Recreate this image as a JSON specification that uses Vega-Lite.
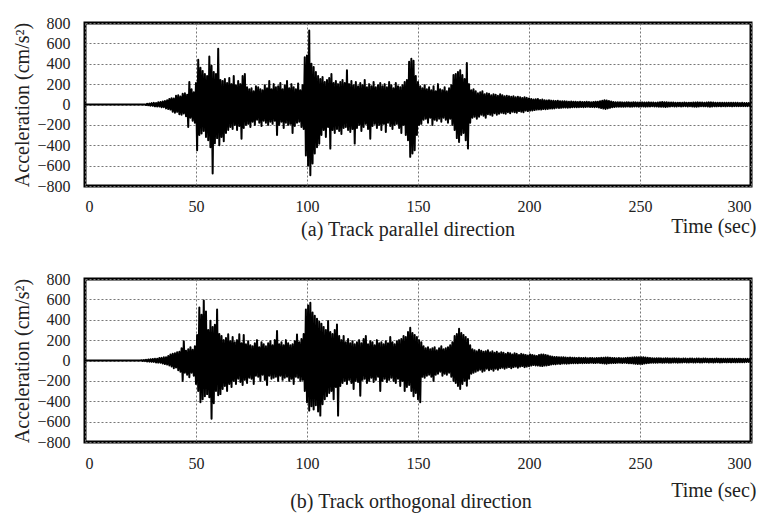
{
"$schema": "https://vega.github.io/schema/vega-lite/v6.json",
"background": "white",
"padding": {"left": 11, "top": 13, "right": 5, "bottom": 5},
"spacing": 27,
"config": {
"font": "Liberation Serif",
"view": {"stroke": "black", "strokeWidth": 3},
"axis": {"grid": true, "gridColor": "#777", "gridDash": [2, 2], "gridWidth": 1, "ticks": false, "tickSize": 0, "domain": false, "labelFont": "Liberation Serif", "labelFontSize": 16, "labelColor": "#222", "titleFont": "Liberation Serif", "titleFontWeight": "normal", "titleFontSize": 20, "titleColor": "#222"},
"title": {"font": "Liberation Serif", "fontSize": 20, "fontWeight": "normal", "color": "#222"}
},
"data": {"values": [
{"t":0,"a":0,"b":0},{"t":25,"a":0,"b":0},{"t":25.5,"a":0,"b":3},{"t":26,"a":0,"b":-4},{"t":26.5,"a":0,"b":5},{"t":27,"a":0,"b":-6},
{"t":27.5,"a":-5,"b":8},{"t":28,"a":7,"b":-9},{"t":28.5,"a":-8,"b":10},{"t":29,"a":10,"b":-11},{"t":29.5,"a":-12,"b":12},{"t":30,"a":14,"b":-13},
{"t":30.5,"a":-13,"b":15},{"t":31,"a":16,"b":-14},{"t":31.5,"a":-18,"b":17},{"t":32,"a":15,"b":-19},{"t":32.5,"a":-20,"b":18},{"t":33,"a":22,"b":-21},
{"t":33.5,"a":-19,"b":24},{"t":34,"a":25,"b":-22},{"t":34.5,"a":-28,"b":26},{"t":35,"a":30,"b":-29},{"t":35.5,"a":-26,"b":31},{"t":36,"a":34,"b":-35},
{"t":36.5,"a":-38,"b":33},{"t":37,"a":42,"b":-40},{"t":37.5,"a":-45,"b":44},{"t":38,"a":55,"b":-48},{"t":38.5,"a":-50,"b":60},{"t":39,"a":62,"b":-58},
{"t":39.5,"a":-70,"b":66},{"t":40,"a":58,"b":-75},{"t":40.5,"a":-80,"b":72},{"t":41,"a":85,"b":-68},{"t":41.5,"a":-72,"b":80},{"t":42,"a":90,"b":-95},
{"t":42.5,"a":-95,"b":85},{"t":43,"a":78,"b":-110},{"t":43.5,"a":-100,"b":120},{"t":44,"a":105,"b":-200},{"t":44.5,"a":-88,"b":190},{"t":45,"a":110,"b":-120},
{"t":45.5,"a":-115,"b":95},{"t":46,"a":95,"b":-140},{"t":46.5,"a":-220,"b":110},{"t":47,"a":220,"b":-165},{"t":47.5,"a":-130,"b":130},{"t":48,"a":150,"b":-120},
{"t":48.5,"a":-160,"b":105},{"t":49,"a":120,"b":-150},{"t":49.5,"a":-180,"b":140},{"t":50,"a":210,"b":-230},{"t":50.5,"a":-450,"b":250},{"t":51,"a":440,"b":-300},
{"t":51.5,"a":-300,"b":520},{"t":52,"a":360,"b":-410},{"t":52.5,"a":-285,"b":450},{"t":53,"a":330,"b":-380},{"t":53.5,"a":-260,"b":590},{"t":54,"a":300,"b":-350},
{"t":54.5,"a":-320,"b":480},{"t":55,"a":280,"b":-330},{"t":55.5,"a":-350,"b":300},{"t":56,"a":470,"b":-360},{"t":56.5,"a":-420,"b":390},{"t":57,"a":380,"b":-572},
{"t":57.5,"a":-678,"b":330},{"t":58,"a":320,"b":-420},{"t":58.5,"a":-380,"b":350},{"t":59,"a":300,"b":-300},{"t":59.5,"a":-330,"b":500},{"t":60,"a":547,"b":-340},
{"t":60.5,"a":-400,"b":260},{"t":61,"a":240,"b":-330},{"t":61.5,"a":-320,"b":240},{"t":62,"a":230,"b":-280},{"t":62.5,"a":-360,"b":200},{"t":63,"a":250,"b":-250},
{"t":63.5,"a":-280,"b":220},{"t":64,"a":210,"b":-300},{"t":64.5,"a":-250,"b":257},{"t":65,"a":260,"b":-230},{"t":65.5,"a":-220,"b":190},{"t":66,"a":200,"b":-260},
{"t":66.5,"a":-240,"b":230},{"t":67,"a":280,"b":-200},{"t":67.5,"a":-200,"b":180},{"t":68,"a":190,"b":-230},{"t":68.5,"a":-250,"b":200},{"t":69,"a":230,"b":-180},
{"t":69.5,"a":-210,"b":257},{"t":70,"a":200,"b":-210},{"t":70.5,"a":-335,"b":170},{"t":71,"a":280,"b":-240},{"t":71.5,"a":-230,"b":250},{"t":72,"a":300,"b":-190},
{"t":72.5,"a":-200,"b":160},{"t":73,"a":170,"b":-220},{"t":73.5,"a":-190,"b":190},{"t":74,"a":150,"b":-170},{"t":74.5,"a":-220,"b":150},{"t":75,"a":160,"b":-180},
{"t":75.5,"a":-170,"b":140},{"t":76,"a":130,"b":-230},{"t":76.5,"a":-200,"b":170},{"t":77,"a":180,"b":-150},{"t":77.5,"a":-150,"b":200},{"t":78,"a":170,"b":-160},
{"t":78.5,"a":-180,"b":130},{"t":79,"a":150,"b":-200},{"t":79.5,"a":-210,"b":180},{"t":80,"a":140,"b":-140},{"t":80.5,"a":-160,"b":160},{"t":81,"a":190,"b":-190},
{"t":81.5,"a":-180,"b":140},{"t":82,"a":160,"b":-240},{"t":82.5,"a":-200,"b":170},{"t":83,"a":230,"b":-150},{"t":83.5,"a":-170,"b":190},{"t":84,"a":150,"b":-180},
{"t":84.5,"a":-190,"b":150},{"t":85,"a":200,"b":-170},{"t":85.5,"a":-160,"b":200},{"t":86,"a":170,"b":-160},{"t":86.5,"a":-300,"b":290},{"t":87,"a":180,"b":-200},
{"t":87.5,"a":-200,"b":160},{"t":88,"a":210,"b":-150},{"t":88.5,"a":-170,"b":180},{"t":89,"a":150,"b":-190},{"t":89.5,"a":-230,"b":150},{"t":90,"a":190,"b":-170},
{"t":90.5,"a":-180,"b":200},{"t":91,"a":230,"b":-160},{"t":91.5,"a":-200,"b":170},{"t":92,"a":160,"b":-200},{"t":92.5,"a":-190,"b":150},{"t":93,"a":200,"b":-180},
{"t":93.5,"a":-280,"b":160},{"t":94,"a":170,"b":-230},{"t":94.5,"a":-210,"b":190},{"t":95,"a":150,"b":-160},{"t":95.5,"a":-180,"b":256},{"t":96,"a":205,"b":-170},
{"t":96.5,"a":-170,"b":180},{"t":97,"a":140,"b":-200},{"t":97.5,"a":-220,"b":210},{"t":98,"a":190,"b":-190},{"t":98.5,"a":-240,"b":260},{"t":99,"a":465,"b":-300},
{"t":99.5,"a":-500,"b":500},{"t":100,"a":480,"b":-410},{"t":100.5,"a":-600,"b":540},{"t":101,"a":727,"b":-492},{"t":101.5,"a":-694,"b":566},{"t":102,"a":400,"b":-450},
{"t":102.5,"a":-580,"b":470},{"t":103,"a":367,"b":-480},{"t":103.5,"a":-482,"b":440},{"t":104,"a":320,"b":-440},{"t":104.5,"a":-420,"b":410},{"t":105,"a":280,"b":-500},
{"t":105.5,"a":-384,"b":380},{"t":106,"a":250,"b":-541},{"t":106.5,"a":-300,"b":360},{"t":107,"a":270,"b":-430},{"t":107.5,"a":-250,"b":330},{"t":108,"a":220,"b":-380},
{"t":108.5,"a":-320,"b":300},{"t":109,"a":240,"b":-350},{"t":109.5,"a":-220,"b":387},{"t":110,"a":260,"b":-320},{"t":110.5,"a":-433,"b":280},{"t":111,"a":300,"b":-300},
{"t":111.5,"a":-250,"b":260},{"t":112,"a":210,"b":-380},{"t":112.5,"a":-280,"b":300},{"t":113,"a":230,"b":-260},{"t":113.5,"a":-240,"b":354},{"t":114,"a":200,"b":-541},
{"t":114.5,"a":-260,"b":240},{"t":115,"a":220,"b":-250},{"t":115.5,"a":-290,"b":200},{"t":116,"a":240,"b":-220},{"t":116.5,"a":-230,"b":240},{"t":117,"a":210,"b":-200},
{"t":117.5,"a":-220,"b":180},{"t":118,"a":335,"b":-230},{"t":118.5,"a":-250,"b":210},{"t":119,"a":200,"b":-190},{"t":119.5,"a":-270,"b":170},{"t":120,"a":230,"b":-220},
{"t":120.5,"a":-240,"b":190},{"t":121,"a":190,"b":-280},{"t":121.5,"a":-384,"b":160},{"t":122,"a":220,"b":-200},{"t":122.5,"a":-230,"b":180},{"t":123,"a":180,"b":-210},
{"t":123.5,"a":-200,"b":200},{"t":124,"a":210,"b":-345},{"t":124.5,"a":-260,"b":170},{"t":125,"a":190,"b":-190},{"t":125.5,"a":-220,"b":210},{"t":126,"a":240,"b":-180},
{"t":126.5,"a":-190,"b":240},{"t":127,"a":170,"b":-220},{"t":127.5,"a":-240,"b":160},{"t":128,"a":200,"b":-200},{"t":128.5,"a":-335,"b":190},{"t":129,"a":180,"b":-170},
{"t":129.5,"a":-210,"b":180},{"t":130,"a":220,"b":-210},{"t":130.5,"a":-190,"b":150},{"t":131,"a":170,"b":-190},{"t":131.5,"a":-230,"b":200},{"t":132,"a":190,"b":-160},
{"t":132.5,"a":-200,"b":170},{"t":133,"a":210,"b":-300},{"t":133.5,"a":-250,"b":180},{"t":134,"a":180,"b":-200},{"t":134.5,"a":-190,"b":160},{"t":135,"a":200,"b":-180},
{"t":135.5,"a":-270,"b":190},{"t":136,"a":170,"b":-210},{"t":136.5,"a":-180,"b":170},{"t":137,"a":220,"b":-190},{"t":137.5,"a":-210,"b":230},{"t":138,"a":190,"b":-170},
{"t":138.5,"a":-240,"b":180},{"t":139,"a":160,"b":-200},{"t":139.5,"a":-200,"b":160},{"t":140,"a":210,"b":-220},{"t":140.5,"a":-190,"b":190},{"t":141,"a":180,"b":-180},
{"t":141.5,"a":-230,"b":200},{"t":142,"a":170,"b":-250},{"t":142.5,"a":-280,"b":210},{"t":143,"a":190,"b":-200},{"t":143.5,"a":-200,"b":240},{"t":144,"a":220,"b":-300},
{"t":144.5,"a":-300,"b":230},{"t":145,"a":240,"b":-260},{"t":145.5,"a":-350,"b":280},{"t":146,"a":420,"b":-240},{"t":146.5,"a":-514,"b":322},{"t":147,"a":449,"b":-300},
{"t":147.5,"a":-480,"b":270},{"t":148,"a":430,"b":-350},{"t":148.5,"a":-450,"b":250},{"t":149,"a":280,"b":-320},{"t":149.5,"a":-300,"b":230},{"t":150,"a":220,"b":-380},
{"t":150.5,"a":-200,"b":200},{"t":151,"a":180,"b":-410},{"t":151.5,"a":-190,"b":180},{"t":152,"a":160,"b":-160},{"t":152.5,"a":-150,"b":140},{"t":153,"a":190,"b":-170},
{"t":153.5,"a":-140,"b":120},{"t":154,"a":150,"b":-150},{"t":154.5,"a":-180,"b":130},{"t":155,"a":170,"b":-140},{"t":155.5,"a":-130,"b":110},{"t":156,"a":140,"b":-160},
{"t":156.5,"a":-200,"b":120},{"t":157,"a":180,"b":-200},{"t":157.5,"a":-150,"b":130},{"t":158,"a":130,"b":-140},{"t":158.5,"a":-160,"b":100},{"t":159,"a":200,"b":-130},
{"t":159.5,"a":-140,"b":120},{"t":160,"a":150,"b":-110},{"t":160.5,"a":-170,"b":140},{"t":161,"a":140,"b":-150},{"t":161.5,"a":-130,"b":110},{"t":162,"a":170,"b":-130},
{"t":162.5,"a":-150,"b":120},{"t":163,"a":130,"b":-140},{"t":163.5,"a":-180,"b":130},{"t":164,"a":160,"b":-120},{"t":164.5,"a":-140,"b":150},{"t":165,"a":190,"b":-160},
{"t":165.5,"a":-200,"b":180},{"t":166,"a":290,"b":-200},{"t":166.5,"a":-250,"b":240},{"t":167,"a":300,"b":-220},{"t":167.5,"a":-330,"b":260},{"t":168,"a":320,"b":-250},
{"t":168.5,"a":-367,"b":312},{"t":169,"a":335,"b":-280},{"t":169.5,"a":-300,"b":270},{"t":170,"a":290,"b":-230},{"t":170.5,"a":-280,"b":250},{"t":171,"a":250,"b":-200},
{"t":171.5,"a":-350,"b":230},{"t":172,"a":407,"b":-248},{"t":172.5,"a":-433,"b":210},{"t":173,"a":200,"b":-180},{"t":173.5,"a":-180,"b":150},{"t":174,"a":140,"b":-130},
{"t":174.5,"a":-130,"b":110},{"t":175,"a":150,"b":-120},{"t":175.5,"a":-120,"b":100},{"t":176,"a":130,"b":-110},{"t":176.5,"a":-140,"b":90},{"t":177,"a":110,"b":-100},
{"t":177.5,"a":-120,"b":105},{"t":178,"a":120,"b":-90},{"t":178.5,"a":-100,"b":95},{"t":179,"a":130,"b":-110},{"t":179.5,"a":-110,"b":85},{"t":180,"a":100,"b":-100},
{"t":180.5,"a":-130,"b":90},{"t":181,"a":110,"b":-80},{"t":181.5,"a":-95,"b":100},{"t":182,"a":105,"b":-95},{"t":182.5,"a":-100,"b":80},{"t":183,"a":90,"b":-85},
{"t":183.5,"a":-110,"b":90},{"t":184,"a":100,"b":-100},{"t":184.5,"a":-85,"b":75},{"t":185,"a":95,"b":-80},{"t":185.5,"a":-100,"b":85},{"t":186,"a":85,"b":-90},
{"t":186.5,"a":-90,"b":70},{"t":187,"a":100,"b":-75},{"t":187.5,"a":-80,"b":80},{"t":188,"a":90,"b":-70},{"t":188.5,"a":-85,"b":75},{"t":189,"a":80,"b":-80},
{"t":189.5,"a":-90,"b":65},{"t":190,"a":85,"b":-70},{"t":190.5,"a":-75,"b":75},{"t":191,"a":80,"b":-65},{"t":191.5,"a":-85,"b":70},{"t":192,"a":75,"b":-75},
{"t":192.5,"a":-70,"b":60},{"t":193,"a":80,"b":-65},{"t":193.5,"a":-75,"b":70},{"t":194,"a":70,"b":-60},{"t":194.5,"a":-80,"b":65},{"t":195,"a":75,"b":-70},
{"t":195.5,"a":-65,"b":55},{"t":196,"a":70,"b":-60},{"t":196.5,"a":-70,"b":65},{"t":197,"a":65,"b":-55},{"t":197.5,"a":-75,"b":60},{"t":198,"a":70,"b":-65},
{"t":198.5,"a":-60,"b":55},{"t":199,"a":65,"b":-60},{"t":199.5,"a":-65,"b":50},{"t":200,"a":60,"b":-55},{"t":200.5,"a":-60,"b":60},{"t":201,"a":55,"b":-50},
{"t":201.5,"a":-58,"b":55},{"t":202,"a":50,"b":-45},{"t":202.5,"a":-55,"b":50},{"t":203,"a":52,"b":-48},{"t":203.5,"a":-50,"b":45},{"t":204,"a":55,"b":-50},
{"t":204.5,"a":-48,"b":55},{"t":205,"a":45,"b":-52},{"t":205.5,"a":-50,"b":60},{"t":206,"a":48,"b":-55},{"t":206.5,"a":-45,"b":58},{"t":207,"a":42,"b":-50},
{"t":207.5,"a":-46,"b":55},{"t":208,"a":40,"b":-48},{"t":208.5,"a":-44,"b":50},{"t":209,"a":42,"b":-45},{"t":209.5,"a":-40,"b":42},{"t":210,"a":38,"b":-40},
{"t":210.5,"a":-40,"b":38},{"t":211,"a":36,"b":-36},{"t":211.5,"a":-38,"b":35},{"t":212,"a":35,"b":-37},{"t":212.5,"a":-33,"b":34},{"t":213,"a":36,"b":-32},
{"t":213.5,"a":-34,"b":33},{"t":214,"a":32,"b":-34},{"t":214.5,"a":-33,"b":31},{"t":215,"a":31,"b":-30},{"t":215.5,"a":-30,"b":32},{"t":216,"a":32,"b":-29},
{"t":216.5,"a":-29,"b":30},{"t":217,"a":30,"b":-31},{"t":217.5,"a":-31,"b":28},{"t":218,"a":28,"b":-29},{"t":218.5,"a":-29,"b":30},{"t":219,"a":30,"b":-27},
{"t":219.5,"a":-27,"b":28},{"t":220,"a":28,"b":-28},{"t":220.5,"a":-26,"b":27},{"t":221,"a":27,"b":-26},{"t":221.5,"a":-28,"b":25},{"t":222,"a":25,"b":-27},
{"t":222.5,"a":-26,"b":26},{"t":223,"a":27,"b":-24},{"t":223.5,"a":-24,"b":25},{"t":224,"a":25,"b":-26},{"t":224.5,"a":-26,"b":24},{"t":225,"a":24,"b":-25},
{"t":225.5,"a":-25,"b":26},{"t":226,"a":26,"b":-24},{"t":226.5,"a":-23,"b":23},{"t":227,"a":25,"b":-25},{"t":227.5,"a":-24,"b":24},{"t":228,"a":23,"b":-23},
{"t":228.5,"a":-25,"b":25},{"t":229,"a":24,"b":-24},{"t":229.5,"a":-26,"b":23},{"t":230,"a":27,"b":-25},{"t":230.5,"a":-25,"b":24},{"t":231,"a":28,"b":-23},
{"t":231.5,"a":-30,"b":25},{"t":232,"a":32,"b":-24},{"t":232.5,"a":-35,"b":26},{"t":233,"a":37,"b":-27},{"t":233.5,"a":-40,"b":28},{"t":234,"a":42,"b":-29},
{"t":234.5,"a":-44,"b":30},{"t":235,"a":40,"b":-31},{"t":235.5,"a":-38,"b":29},{"t":236,"a":35,"b":-28},{"t":236.5,"a":-32,"b":27},{"t":237,"a":30,"b":-26},
{"t":237.5,"a":-27,"b":25},{"t":238,"a":25,"b":-24},{"t":238.5,"a":-24,"b":25},{"t":239,"a":23,"b":-24},{"t":239.5,"a":-22,"b":23},{"t":240,"a":23,"b":-22},
{"t":240.5,"a":-21,"b":24},{"t":241,"a":22,"b":-23},{"t":241.5,"a":-23,"b":22},{"t":242,"a":21,"b":-24},{"t":242.5,"a":-22,"b":23},{"t":243,"a":20,"b":-22},
{"t":243.5,"a":-21,"b":24},{"t":244,"a":22,"b":-25},{"t":244.5,"a":-20,"b":26},{"t":245,"a":21,"b":-27},{"t":245.5,"a":-22,"b":28},{"t":246,"a":20,"b":-27},
{"t":246.5,"a":-21,"b":29},{"t":247,"a":22,"b":-30},{"t":247.5,"a":-20,"b":31},{"t":248,"a":21,"b":-32},{"t":248.5,"a":-19,"b":33},{"t":249,"a":20,"b":-34},
{"t":249.5,"a":-21,"b":32},{"t":250,"a":19,"b":-33},{"t":250.5,"a":-20,"b":31},{"t":251,"a":21,"b":-34},{"t":251.5,"a":-19,"b":32},{"t":252,"a":20,"b":-30},
{"t":252.5,"a":-21,"b":29},{"t":253,"a":19,"b":-28},{"t":253.5,"a":-20,"b":26},{"t":254,"a":21,"b":-25},{"t":254.5,"a":-19,"b":24},{"t":255,"a":20,"b":-23},
{"t":255.5,"a":-18,"b":22},{"t":256,"a":19,"b":-23},{"t":256.5,"a":-20,"b":21},{"t":257,"a":18,"b":-22},{"t":257.5,"a":-19,"b":23},{"t":258,"a":20,"b":-21},
{"t":258.5,"a":-21,"b":22},{"t":259,"a":22,"b":-20},{"t":259.5,"a":-23,"b":21},{"t":260,"a":24,"b":-22},{"t":260.5,"a":-23,"b":20},{"t":261,"a":22,"b":-21},
{"t":261.5,"a":-24,"b":22},{"t":262,"a":23,"b":-20},{"t":262.5,"a":-21,"b":21},{"t":263,"a":20,"b":-22},{"t":263.5,"a":-19,"b":20},{"t":264,"a":20,"b":-21},
{"t":264.5,"a":-18,"b":19},{"t":265,"a":19,"b":-20},{"t":265.5,"a":-20,"b":21},{"t":266,"a":18,"b":-19},{"t":266.5,"a":-19,"b":20},{"t":267,"a":18,"b":-21},
{"t":267.5,"a":-17,"b":19},{"t":268,"a":18,"b":-20},{"t":268.5,"a":-19,"b":18},{"t":269,"a":17,"b":-19},{"t":269.5,"a":-18,"b":20},{"t":270,"a":19,"b":-18},
{"t":270.5,"a":-17,"b":19},{"t":271,"a":18,"b":-20},{"t":271.5,"a":-19,"b":18},{"t":272,"a":18,"b":-19},{"t":272.5,"a":-17,"b":20},{"t":273,"a":18,"b":-18},
{"t":273.5,"a":-19,"b":19},{"t":274,"a":20,"b":-20},{"t":274.5,"a":-21,"b":18},{"t":275,"a":20,"b":-19},{"t":275.5,"a":-22,"b":20},{"t":276,"a":21,"b":-18},
{"t":276.5,"a":-20,"b":19},{"t":277,"a":19,"b":-20},{"t":277.5,"a":-18,"b":18},{"t":278,"a":19,"b":-19},{"t":278.5,"a":-18,"b":20},{"t":279,"a":17,"b":-18},
{"t":279.5,"a":-18,"b":19},{"t":280,"a":19,"b":-17},{"t":280.5,"a":-20,"b":18},{"t":281,"a":21,"b":-19},{"t":281.5,"a":-22,"b":18},{"t":282,"a":21,"b":-17},
{"t":282.5,"a":-20,"b":18},{"t":283,"a":19,"b":-19},{"t":283.5,"a":-18,"b":17},{"t":284,"a":17,"b":-18},{"t":284.5,"a":-18,"b":19},{"t":285,"a":17,"b":-17},
{"t":285.5,"a":-16,"b":18},{"t":286,"a":17,"b":-19},{"t":286.5,"a":-18,"b":17},{"t":287,"a":17,"b":-18},{"t":287.5,"a":-16,"b":17},{"t":288,"a":17,"b":-16},
{"t":288.5,"a":-18,"b":17},{"t":289,"a":17,"b":-18},{"t":289.5,"a":-16,"b":17},{"t":290,"a":17,"b":-16},{"t":290.5,"a":-16,"b":17},{"t":291,"a":17,"b":-18},
{"t":291.5,"a":-18,"b":17},{"t":292,"a":17,"b":-16},{"t":292.5,"a":-16,"b":17},{"t":293,"a":17,"b":-18},{"t":293.5,"a":-16,"b":16},{"t":294,"a":17,"b":-17},
{"t":294.5,"a":-16,"b":18},{"t":295,"a":15,"b":-17},{"t":295.5,"a":-16,"b":16},{"t":296,"a":17,"b":-17},{"t":296.5,"a":-16,"b":16},{"t":297,"a":15,"b":-17},
{"t":297.5,"a":-16,"b":16},{"t":298,"a":15,"b":-15},{"t":298.5,"a":-16,"b":16},{"t":299,"a":15,"b":-15},{"t":299.5,"a":-14,"b":16},{"t":300,"a":15,"b":-15}
]},
"vconcat": [
{
"width": 666, "height": 163,
"title": {"text": "(a) Track parallel direction", "orient": "bottom", "anchor": "middle", "dx": -10, "offset": -16},
"mark": {"type": "line", "color": "black", "strokeWidth": 2, "strokeJoin": "round", "clip": true},
"encoding": {
"x": {"field": "t", "type": "quantitative", "scale": {"domain": [0, 300], "nice": false},
"axis": {"values": [0, 50, 100, 150, 200, 250, 300], "labelPadding": 12, "title": "Time (sec)", "titleAlign": "right", "titleBaseline": "alphabetic", "titleX": 671, "titleY": 46}},
"y": {"field": "a", "type": "quantitative", "scale": {"domain": [-800, 800], "nice": false},
"axis": {"values": [-800, -600, -400, -200, 0, 200, 400, 600, 800], "labelPadding": 15, "title": "Acceleration (cm/s²)", "titlePadding": 4}}
}
},
{
"width": 666, "height": 163,
"title": {"text": "(b) Track orthogonal direction", "orient": "bottom", "anchor": "middle", "dx": -7, "offset": -8},
"mark": {"type": "line", "color": "black", "strokeWidth": 2, "strokeJoin": "round", "clip": true},
"encoding": {
"x": {"field": "t", "type": "quantitative", "scale": {"domain": [0, 300], "nice": false},
"axis": {"values": [0, 50, 100, 150, 200, 250, 300], "labelPadding": 13, "title": "Time (sec)", "titleAlign": "right", "titleBaseline": "alphabetic", "titleX": 671, "titleY": 54}},
"y": {"field": "b", "type": "quantitative", "scale": {"domain": [-800, 800], "nice": false},
"axis": {"values": [-800, -600, -400, -200, 0, 200, 400, 600, 800], "labelPadding": 15, "title": "Acceleration (cm/s²)", "titlePadding": 4}}
}
}
]
}
